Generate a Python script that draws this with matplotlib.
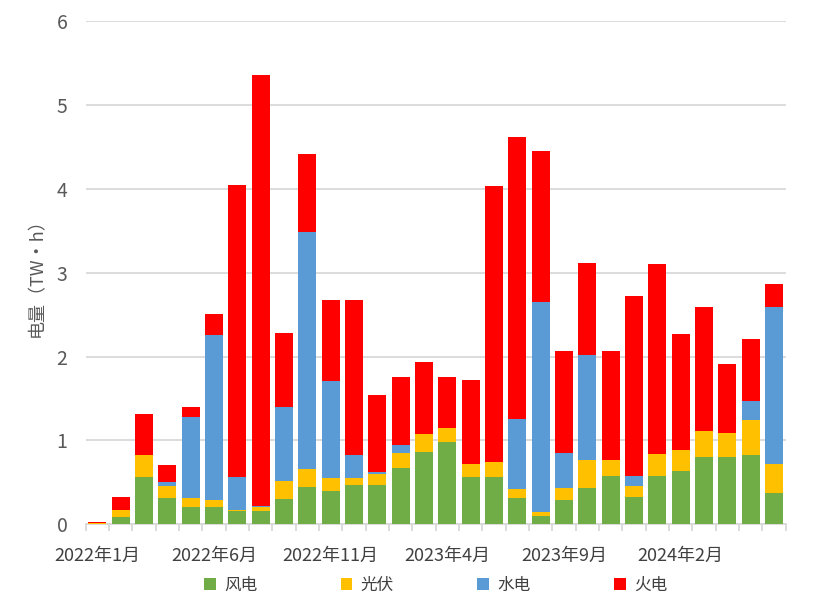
import matplotlib.pyplot as plt
import numpy as np

plt.rcParams['font.family'] = ['Noto Sans CJK SC', 'DejaVu Sans']

# 2022-01 .. 2024-06, monthly
months = [f"{2022 + (i // 12)}年{i % 12 + 1}月" for i in range(30)]

wind = [0.00, 0.09, 0.56, 0.31, 0.20, 0.20, 0.16, 0.16, 0.30, 0.44,
        0.39, 0.47, 0.47, 0.67, 0.86, 0.98, 0.56, 0.56, 0.31, 0.10,
        0.29, 0.43, 0.58, 0.33, 0.58, 0.64, 0.80, 0.80, 0.83, 0.37]
solar = [0.02, 0.085, 0.26, 0.14, 0.11, 0.09, 0.015, 0.04, 0.21, 0.22,
         0.16, 0.08, 0.13, 0.185, 0.22, 0.17, 0.16, 0.18, 0.11, 0.05,
         0.14, 0.33, 0.18, 0.12, 0.26, 0.25, 0.31, 0.29, 0.41, 0.35]
hydro = [0.00, 0.00, 0.00, 0.05, 0.97, 1.97, 0.385, 0.02, 0.89, 2.83,
         1.16, 0.27, 0.02, 0.095, 0.00, 0.00, 0.00, 0.00, 0.83, 2.50,
         0.42, 1.26, 0.00, 0.13, 0.00, 0.00, 0.00, 0.00, 0.23, 1.87]
thermal = [0.01, 0.145, 0.50, 0.21, 0.12, 0.25, 3.49, 5.14, 0.88, 0.92,
           0.96, 1.85, 0.92, 0.80, 0.85, 0.60, 1.00, 3.29, 3.37, 1.80,
           1.22, 1.10, 1.31, 2.14, 2.26, 1.38, 1.48, 0.82, 0.74, 0.28]

series = [("风电", wind, "#70AD47"), ("光伏", solar, "#FFC000"),
          ("水电", hydro, "#5B9BD5"), ("火电", thermal, "#FF0000")]

fig = plt.figure(figsize=(8.15, 6.06), dpi=100)
ax = fig.add_axes([0.105, 0.135, 0.859, 0.83])

x = np.arange(len(months))
bottom = np.zeros(len(months))
for name, vals, color in series:
    ax.bar(x, vals, 0.77, bottom=bottom, color=color, label=name, zorder=3)
    bottom += np.array(vals)

ax.set_xlim(-0.5, len(months) - 0.5)
ax.set_ylim(0, 6)
ax.set_yticks(range(7))
ax.grid(axis='y', color='#D9D9D9', linewidth=1.3, zorder=0)
for s in ['top', 'right', 'left']:
    ax.spines[s].set_visible(False)
ax.spines['bottom'].set_color('#D9D9D9')
ax.spines['bottom'].set_linewidth(1.3)

ax.set_xticks(np.arange(0, len(months), 5))
ax.set_xticklabels([months[i] for i in range(0, len(months), 5)])
ax.set_xticks(np.arange(-0.5, len(months)), minor=True)
ax.tick_params(axis='x', which='major', length=0, pad=16, labelsize=13, labelcolor='#404040')
ax.tick_params(axis='x', which='minor', length=5, color='#D9D9D9', width=1.3)
ax.tick_params(axis='y', length=0, pad=13, labelsize=14, labelcolor='#595959')

ax.set_ylabel("电量（TW·h）", fontsize=13, color='#595959', labelpad=8)

ax.legend(loc='upper center', bbox_to_anchor=(0.5, -0.075), ncol=4, frameon=False,
          fontsize=12, handlelength=0.7, handleheight=0.7, columnspacing=5.0,
          handletextpad=0.5, labelcolor='#404040')

fig.savefig("out.png", dpi=100)
